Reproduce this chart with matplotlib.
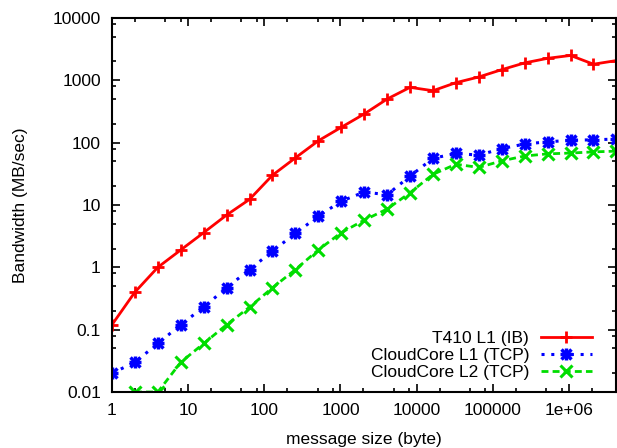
import numpy as np
import matplotlib.pyplot as plt
from matplotlib.ticker import LogLocator, FixedLocator, FixedFormatter, NullFormatter
from matplotlib.legend_handler import HandlerTuple

plt.rcParams['font.family'] = ['Liberation Sans', 'DejaVu Sans']

# message sizes (byte)
msg_size = [1, 2, 4, 8, 16, 32, 64, 128, 256, 512, 1024, 2048, 4096, 8192,
            16384, 32768, 65536, 131072, 262144, 524288, 1048576, 2097152, 4194304]

# bandwidth (MB/sec)
t410_l1 = [0.12, 0.40, 1.0, 1.9, 3.6, 6.9, 12.3, 30, 57, 107, 176, 288, 500, 770,
           680, 915, 1130, 1480, 1900, 2250, 2500, 1810, 2070]
cloud_l1 = [0.020, 0.030, 0.060, 0.12, 0.23, 0.47, 0.92, 1.82, 3.5, 6.6, 11.5, 16.1, 14.6, 29,
            56, 67, 63, 80, 95, 103, 109, 111, 114]
cloud_l2 = [np.nan, 0.010, 0.010, 0.030, 0.060, 0.12, 0.23, 0.47, 0.92, 1.9, 3.6, 5.7, 8.6, 15.7,
            31, 45, 40, 51, 61, 66, 68, 71, 73]

x_ticks = [1, 10, 100, 1000, 10000, 100000, 1000000]
x_labels = ['1', '10', '100', '1000', '10000', '100000', '1e+06']
y_ticks = [0.01, 0.1, 1, 10, 100, 1000, 10000]
y_labels = ['0.01', '0.1', '1', '10', '100', '1000', '10000']

fig = plt.figure(figsize=(6.17, 4.48), dpi=100)
ax = fig.add_axes([0.1815, 0.125, 0.8175, 0.835])

red_line, = ax.plot(msg_size, t410_l1, color='#ff0000', linestyle='-', linewidth=2,
                    marker='+', markersize=9, markeredgewidth=2)
# gnuplot "*" point = "+" and "x" drawn on top of each other
blue_line, = ax.plot(msg_size, cloud_l1, color='#0000ff', linestyle=(0, (1, 2.2)), linewidth=2.2,
                     marker='+', markersize=9, markeredgewidth=2.5)
blue_x, = ax.plot(msg_size, cloud_l1, color='#0000ff', linestyle='none',
                  marker='x', markersize=7, markeredgewidth=2.5)
green_line, = ax.plot(msg_size, cloud_l2, color='#00dd00', linestyle=(0, (2.5, 1.5)), linewidth=2,
                      marker='x', markersize=8, markeredgewidth=2.2)

ax.set_xscale('log')
ax.set_yscale('log')
ax.set_xlim(1, 4194304)
ax.set_ylim(0.01, 10000)

ax.xaxis.set_major_locator(FixedLocator(x_ticks))
ax.xaxis.set_major_formatter(FixedFormatter(x_labels))
ax.yaxis.set_major_locator(FixedLocator(y_ticks))
ax.yaxis.set_major_formatter(FixedFormatter(y_labels))
ax.xaxis.set_minor_locator(LogLocator(base=10, subs=[2, 5, 8]))
ax.yaxis.set_minor_locator(LogLocator(base=10, subs=[2, 5, 8]))
ax.xaxis.set_minor_formatter(NullFormatter())
ax.yaxis.set_minor_formatter(NullFormatter())

ax.tick_params(which='both', direction='in', top=True, right=True, labelsize=12.5, width=1.2)
ax.tick_params(which='major', length=6, pad=8)
ax.tick_params(which='minor', length=3)
for s in ax.spines.values():
    s.set_linewidth(1.5)

ax.set_xlabel('message size (byte)', fontsize=12.5, labelpad=10)
ax.set_ylabel('Bandwidth (MB/sec)', fontsize=12.5, labelpad=18)

ax.legend([red_line, (blue_line, blue_x), green_line],
          ['T410 L1 (IB)', 'CloudCore L1 (TCP)', 'CloudCore L2 (TCP)'],
          handler_map={tuple: HandlerTuple(ndivide=1)},
          loc='lower right', bbox_to_anchor=(0.975, 0.0), frameon=False, markerfirst=False,
          fontsize=12.5, handlelength=2.9, labelspacing=0.1, handletextpad=0.7,
          borderaxespad=0.3)

plt.savefig('out.png', dpi=100)
